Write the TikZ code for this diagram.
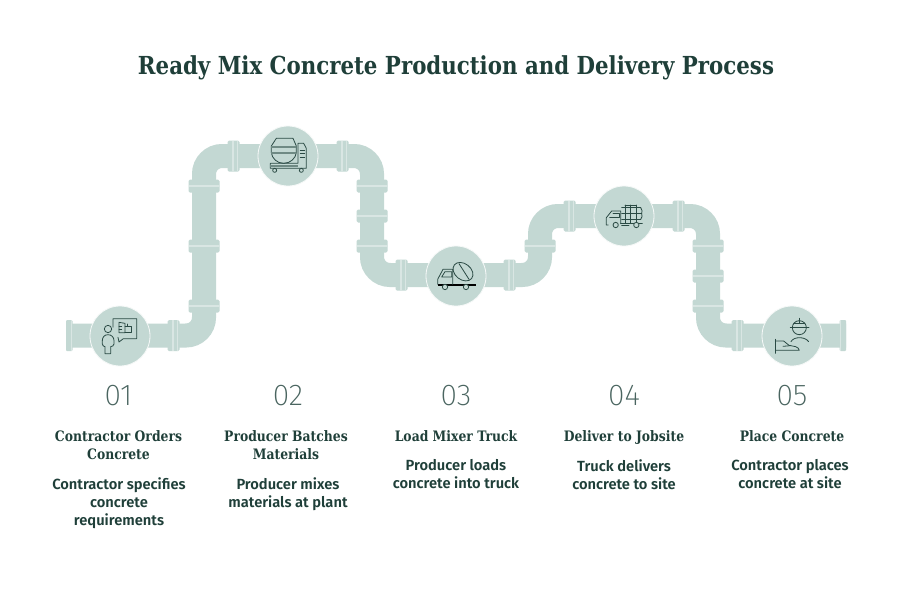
\documentclass[tikz,border=0pt]{standalone}
\usepackage{fontspec}
\setmainfont{Fira Sans SemiBold}
\newfontfamily\slabfont[FakeStretch=0.86]{DejaVu Serif Bold}
\newfontfamily\thinfont{Fira Sans ExtraLight}
\definecolor{pipe}{HTML}{C3D8D3}
\definecolor{pipelight}{HTML}{D9E6E3}
\definecolor{ink}{HTML}{1F3F39}
\definecolor{stroke}{HTML}{2A4A44}
\definecolor{numcol}{HTML}{4A6560}
\newcommand{\runflange}[1]{\fill[pipe,rounded corners=1.5pt] ([shift={(-6,-15.5)}]#1) rectangle ([shift={(6,15.5)}]#1);
 \fill[pipelight] ([shift={(-1.4,-15.5)}]#1) rectangle ([shift={(0,15.5)}]#1);
 \fill[pipelight] ([shift={(3,-15.5)}]#1) rectangle ([shift={(3.9,15.5)}]#1);}
\newcommand{\riseflange}[1]{\fill[pipe,rounded corners=1.5pt] ([shift={(-15.5,-6.5)}]#1) rectangle ([shift={(15.5,6.5)}]#1);
 \fill[pipelight] ([shift={(-15.5,-1)}]#1) rectangle ([shift={(15.5,1)}]#1);}
\tikzset{
 pipeline/.style={draw=pipe,line width=24pt,rounded corners=18pt,line cap=butt},
 stop/.style={circle,minimum size=60pt,inner sep=0pt,fill=pipe,draw=white!85!pipe,line width=0.8pt},
 icon/.style={draw=stroke,line width=0.8pt,line cap=round,line join=round},
 numlabel/.style={font=\thinfont\fontsize{30}{30}\selectfont,text=numcol,anchor=center,inner sep=0pt},
 headlabel/.style={font=\slabfont\fontsize{14.4}{18}\selectfont,text=ink,align=center,anchor=north,inner sep=0pt},
 bodylabel/.style={font=\fontsize{14.7}{18}\selectfont,text=ink,align=center,anchor=north,inner sep=0pt},
 titlelabel/.style={font=\slabfont\fontsize{24.8}{30}\selectfont,text=ink,anchor=center,inner sep=0pt}
}
\begin{document}
\begin{tikzpicture}[x=1pt,y=-1pt]
\useasboundingbox (0,0) rectangle (912,600);
\fill[white] (0,0) rectangle (912,600);
\node[titlelabel] (title) at (456,68) {Ready Mix Concrete Production and Delivery Process};
\coordinate (pa) at (66,335.5);
\coordinate (pb) at (204,335.5);
\coordinate (pc) at (204,156);
\coordinate (pd) at (372,156);
\coordinate (pe) at (372,275);
\coordinate (pf) at (540,275);
\coordinate (pg) at (540,216);
\coordinate (ph) at (708,216);
\coordinate (pi) at (708,335.5);
\coordinate (pj) at (846,335.5);
\draw[pipeline] (pa) -- (pb) -- (pc) -- (pd) -- (pe) -- (pf) -- (pg) -- (ph) -- (pi) -- (pj);
% end caps
\fill[pipe,rounded corners=1pt] (66,320) rectangle (72.5,351);
\fill[pipelight] (71,320) rectangle (72.2,351);
\fill[pipe,rounded corners=1pt] (839.5,320) rectangle (846,351);
\fill[pipelight] (839.8,320) rectangle (841,351);
% flanges on horizontal runs
\foreach \fx/\fy in {173.5/335.5,233.5/156,342.5/156,401.5/275,509.5/275,569.5/216,678.5/216,737.5/335.5} {\coordinate (fl) at (\fx,\fy); \runflange{fl}}
% flanges on vertical runs
\foreach \fx/\fy in {204/306,204/246,204/186,372/186,372/216,372/246,540/246,708/246,708/276,708/306} {\coordinate (fl) at (\fx,\fy); \riseflange{fl}}
% stops
\node[stop] (s1) at (120,336) {};
\node[stop] (s2) at (288,156) {};
\node[stop] (s3) at (456,276) {};
\node[stop] (s4) at (624,216) {};
\node[stop] (s5) at (792,336) {};
% icon 1
\begin{scope}[shift={(95,312)},scale=1/3]
\draw[icon] (39,51) circle (11);
\draw[icon] (39,68) .. controls (28,68) and (22,76) .. (22,86) -- (22,96) .. controls (22,101) and (27,104) .. (30,104) -- (30,125) -- (47,125) -- (47,104) .. controls (51,104) and (57,101) .. (57,96) -- (57,86) .. controls (57,76) and (50,68) .. (39,68);
\draw[icon] (54,46) -- (54,20) -- (125,20) -- (125,80) -- (85,80) -- (72,90) -- (69,76);
\draw[icon] (72,31) -- (90,34) -- (90,62) -- (72,62) -- cycle;
\draw[icon] (90,42) -- (110,42) -- (110,62) -- (90,62);
\draw[icon] (97,36) -- (97,42);
\draw[icon] (72,42) -- (80,42) (72,52) -- (80,52);
\end{scope}
% icon 2
\begin{scope}[shift={(263,131)},scale=1/3]
\draw[icon] (40,22) -- (90,22) -- (100,45) -- (100,65) .. controls (98,82) and (82,97) .. (62,97) .. controls (42,97) and (27,82) .. (25,65) -- (25,45) -- cycle;
\fill[stroke!55!pipe] (25,46) rectangle (100,51);
\fill[stroke!55!pipe] (25,63) rectangle (100,68);
\draw[icon] (22,97) -- (105,97) -- (105,37) -- (122,37) -- (130,52) -- (130,112) -- (22,112) -- cycle;
\fill[stroke!55!pipe] (22,101) rectangle (105,107);
\draw[icon] (35,118) circle (6);
\draw[icon] (115,118) circle (6);
\draw[icon] (112,58) -- (125,58) (112,68) -- (125,68) (112,78) -- (125,78);
\end{scope}
% icon 3
\begin{scope}[shift={(431,251)},scale=1/3]
\draw[stroke,line width=1.1pt] (20,102) -- (135,102);
\draw[icon] (20,100) -- (20,85) -- (36,55) -- (65,55) -- (65,100);
\draw[icon] (42,62) -- (62,62) -- (62,78) -- (32,78) -- cycle;
\draw[icon,rotate around={-38:(96,62)}] (96,62) ellipse (33 and 24);
\draw[icon] (84,38) -- (114,85);
\draw[icon,fill=pipe] (42,108) circle (8);
\draw[icon,fill=pipe] (105,108) circle (8);
\end{scope}
% icon 4
\begin{scope}[shift={(599,191)},scale=1/3]
\draw[icon] (28,102) -- (22,102) -- (22,80) -- (38,60) -- (65,60) -- (65,98);
\draw[icon] (42,66) -- (60,66) -- (60,80) -- (32,80);
\draw[icon] (68,50) -- (125,50) (68,68) -- (128,68) (68,85) -- (125,85);
\draw[icon] (125,50) .. controls (130,55) and (130,62) .. (128,68) .. controls (130,73) and (130,80) .. (125,85);
\draw[icon] (78,42) -- (78,96) (95,42) -- (95,96) (112,42) -- (112,96);
\draw[icon] (78,42) -- (112,42);
\draw[icon] (65,96) -- (130,96);
\draw[icon] (68,104) -- (90,104);
\draw[icon,fill=pipe] (50,102) circle (8);
\draw[icon,fill=pipe] (112,102) circle (8);
\end{scope}
% icon 5
\begin{scope}[shift={(767,311)},scale=1/3]
\draw[icon] (97,50) circle (21);
\draw[icon] (70,50) -- (126,50);
\draw[icon] (80,36) -- (114,36);
\draw[icon] (97,22) -- (97,36);
\draw[icon] (72,92) .. controls (80,76) and (114,76) .. (125,92);
\draw[icon] (25,85) -- (25,127);
\draw[icon] (25,90) -- (50,90) -- (66,103) -- (86,107) .. controls (92,109) and (96,113) .. (97,118) -- (25,118);
\draw[icon] (48,106) -- (70,104);
\end{scope}
% labels
\node[numlabel] (n1) at (118.5,396) {01};
\node[numlabel] (n2) at (288,396) {02};
\node[numlabel] (n3) at (456,396) {03};
\node[numlabel] (n4) at (624,396) {04};
\node[numlabel] (n5) at (792,396) {05};
\node[headlabel] (h1) at (118.5,430.5) {Contractor Orders\\Concrete};
\node[headlabel] (h2) at (286,430.5) {Producer Batches\\Materials};
\node[headlabel] (h3) at (456,430.5) {Load Mixer Truck};
\node[headlabel] (h4) at (624,430.5) {Deliver to Jobsite};
\node[headlabel] (h5) at (792,430.5) {Place Concrete};
\node[bodylabel] (b1) at (119,477) {Contractor specifies\\concrete\\requirements};
\node[bodylabel] (b2) at (288,477) {Producer mixes\\materials at plant};
\node[bodylabel] (b3) at (456,459) {Producer loads\\concrete into truck};
\node[bodylabel] (b4) at (624,459) {Truck delivers\\concrete to site};
\node[bodylabel] (b5) at (790,459) {Contractor places\\concrete at site};
\end{tikzpicture}
\end{document}
